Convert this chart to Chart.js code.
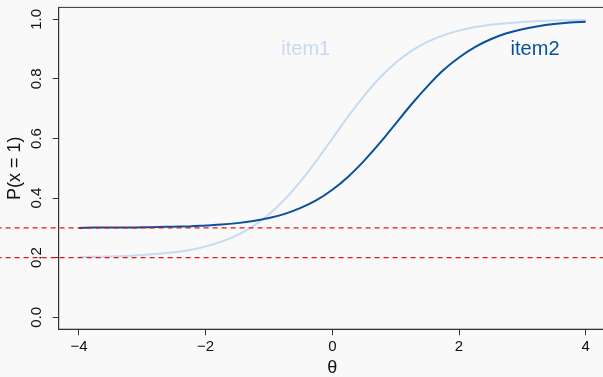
<!DOCTYPE html>
<html>
<head>
<meta charset="utf-8">
<script src="https://cdn.jsdelivr.net/npm/chart.js@4"></script>
<style>
html, body { margin: 0; padding: 0; background: #f9f9f9; overflow: hidden; }
#wrap { width: 603px; height: 377px; overflow: hidden; }
canvas { display: block; }
</style>
</head>
<body>
<div id="wrap"><canvas id="iccChart" width="612" height="377"></canvas></div>
<script>
// ability grid and probability of a correct answer for the two items
const theta = [-4, -3.75, -3.5, -3.25, -3, -2.75, -2.5, -2.25, -2, -1.75, -1.5, -1.25, -1, -0.75, -0.5, -0.25,
    0, 0.25, 0.5, 0.75, 1, 1.25, 1.5, 1.75, 2, 2.25, 2.5, 2.75, 3, 3.25, 3.5, 3.75, 4];
const item1 = [0.202, 0.203, 0.204, 0.206, 0.209, 0.213, 0.218, 0.226, 0.238, 0.254, 0.276, 0.306, 0.346, 0.396, 0.457, 0.526,
    0.600, 0.674, 0.743, 0.804, 0.854, 0.894, 0.924, 0.946, 0.962, 0.974, 0.982, 0.987, 0.991, 0.994, 0.996, 0.997, 0.998];
const item2 = [0.300, 0.301, 0.301, 0.301, 0.302, 0.303, 0.304, 0.305, 0.308, 0.311, 0.316, 0.323, 0.333, 0.347, 0.367, 0.393,
    0.428, 0.472, 0.525, 0.585, 0.650, 0.715, 0.775, 0.829, 0.872, 0.907, 0.933, 0.953, 0.967, 0.977, 0.984, 0.989, 0.992];
const itemNames = ['item1', 'item2'];

// guessing levels, drawn as reference lines across the whole figure
const guessLevels = [0.2, 0.3];
const guessSpan = [-5.3, 4.6];

const xTicks = [-4, -2, 0, 2, 4];
const yTicks = [0, 0.2, 0.4, 0.6, 0.8, 1];

// where the item names sit (theta, probability)
const nameTheta = [-0.42, 3.2];
const nameProb = [0.88, 0.88];

const FONT = '"Liberation Sans", Arial, Helvetica, sans-serif';
const itemColors = ['#c6dbef', '#08519c'];

const toPoints = (ys) => theta.map((t, i) => ({ x: t, y: ys[i] }));

// keep the plot box fixed regardless of how far the tick labels reach
const noEdgePadding = (scale) => {
    scale.paddingTop = 0;
    scale.paddingBottom = 0;
    scale.paddingLeft = 0;
    scale.paddingRight = 0;
};

const bgPlugin = {
    id: 'bg',
    beforeDraw(chart) {
        const ctx = chart.ctx;
        ctx.save();
        ctx.fillStyle = '#f9f9f9';
        ctx.fillRect(0, 0, chart.width, chart.height);
        ctx.restore();
    }
};

const framePlugin = {
    id: 'frame',
    afterDraw(chart) {
        const { ctx, chartArea: a, scales } = chart;
        ctx.save();
        ctx.strokeStyle = '#333';
        ctx.lineWidth = 1;
        ctx.strokeRect(a.left, a.top, a.right - a.left, a.bottom - a.top);

        ctx.font = '20px ' + FONT;
        ctx.textAlign = 'center';
        ctx.textBaseline = 'alphabetic';
        itemNames.forEach((name, i) => {
            ctx.fillStyle = itemColors[i];
            ctx.fillText(name, scales.x.getPixelForValue(nameTheta[i]), scales.y.getPixelForValue(nameProb[i]));
        });
        ctx.restore();
    }
};

const datasets = guessLevels.map(level => ({
    data: guessSpan.map(x => ({ x: x, y: level })),
    borderColor: 'rgba(230, 10, 10, 0.95)',
    borderWidth: 1.3,
    borderDash: [5, 4],
    pointRadius: 0,
    clip: false,
    order: 0
}));
datasets.push({
    data: toPoints(item2),
    borderColor: itemColors[1],
    borderWidth: 2,
    pointRadius: 0,
    cubicInterpolationMode: 'monotone',
    order: 1
});
datasets.push({
    data: toPoints(item1),
    borderColor: itemColors[0],
    borderWidth: 2,
    pointRadius: 0,
    cubicInterpolationMode: 'monotone',
    order: 2
});

new Chart(document.getElementById('iccChart').getContext('2d'), {
    type: 'line',
    data: { datasets: datasets },
    options: {
        responsive: false,
        animation: false,
        events: [],
        layout: { padding: { top: 7.4, right: 6, left: 0, bottom: 0 } },
        plugins: { legend: { display: false }, tooltip: { enabled: false } },
        scales: {
            x: {
                type: 'linear',
                min: -4.32,
                max: 4.32,
                afterBuildTicks: (scale) => { scale.ticks = xTicks.map(v => ({ value: v })); },
                afterFit: (scale) => { scale.height = 47.8; noEdgePadding(scale); },
                grid: { drawOnChartArea: false, drawTicks: true, tickLength: 6, color: '#333' },
                border: { display: true, color: '#333' },
                ticks: {
                    color: '#111',
                    padding: 3,
                    maxRotation: 0,
                    font: { family: FONT, size: 15 },
                    callback: (v) => String(v).replace('-', '\u2212')
                },
                title: {
                    display: true,
                    text: '\u03b8',
                    color: '#111',
                    padding: { top: 0, bottom: 0 },
                    font: { family: FONT, size: 18, lineHeight: 1 }
                }
            },
            y: {
                type: 'linear',
                min: -0.04,
                max: 1.04,
                afterBuildTicks: (scale) => { scale.ticks = yTicks.map(v => ({ value: v })); },
                afterFit: (scale) => { scale.width = 58.7; noEdgePadding(scale); },
                grid: { drawOnChartArea: false, drawTicks: true, tickLength: 6, color: '#333' },
                border: { display: true, color: '#333' },
                ticks: {
                    color: '#111',
                    padding: 5,
                    minRotation: 90,
                    maxRotation: 90,
                    crossAlign: 'center',
                    font: { family: FONT, size: 15 },
                    callback: (v) => v.toFixed(1)
                },
                title: {
                    display: true,
                    text: 'P(x = 1)',
                    color: '#111',
                    padding: { top: 4, bottom: 0 },
                    font: { family: FONT, size: 18 }
                }
            }
        }
    },
    plugins: [bgPlugin, framePlugin]
});
</script>
</body>
</html>
